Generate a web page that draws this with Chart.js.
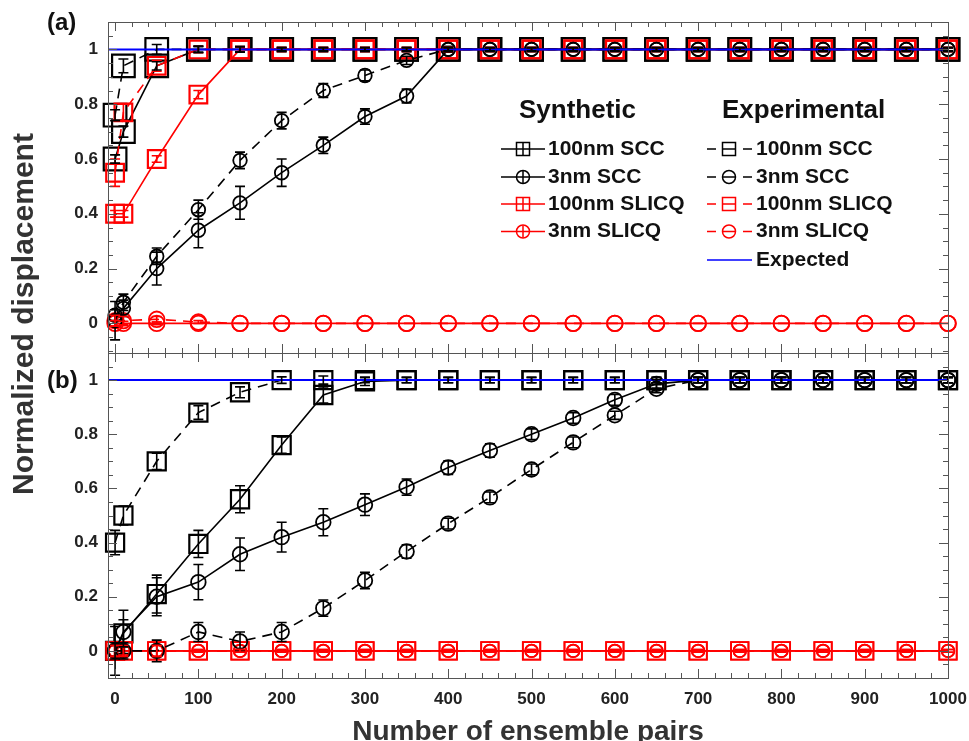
<!DOCTYPE html>
<html>
<head>
<meta charset="utf-8">
<script src="https://cdn.jsdelivr.net/npm/chart.js@4.4.1/dist/chart.umd.min.js"></script>
<style>
  body { margin: 0; background: #fff; width: 969px; height: 741px; overflow: hidden; position: relative;
         font-family: "Liberation Sans", Arial, sans-serif; }
  canvas { position: absolute; left: 0; }
  #panelA { top: 0; }
  #panelB { top: 345px; }
  .lbl { position: absolute; font-weight: bold; color: #111; white-space: nowrap; }
  #tagA { left: 47px; top: 10px; font-size: 24px; line-height: 24px; }
  #tagB { left: 47px; top: 368px; font-size: 24px; line-height: 24px; }
  #ytitle { left: -177px; top: 297px; width: 400px; height: 34px; line-height: 34px; font-size: 30px;
            text-align: center; color: #333; transform: rotate(-90deg); }
</style>
</head>
<body>
<canvas id="panelA" width="969" height="361"></canvas>
<canvas id="panelB" width="969" height="410"></canvas>
<div class="lbl" id="tagA">(a)</div>
<div class="lbl" id="tagB">(b)</div>
<div class="lbl" id="ytitle">Normalized displacement</div>
<script>
// 앙상블 쌍 개수 (x)
const pairs = [0, 10, 50, 100, 150, 200, 250, 300, 350, 400, 450, 500, 550, 600, 650, 700, 750, 800, 850, 900, 950, 1000];

// (a) 패널
const aSyn100SCC    = [0.60, 0.70, 0.94, 1, 1, 1, 1, 1, 1, 1, 1, 1, 1, 1, 1, 1, 1, 1, 1, 1, 1, 1];
const aSyn100SCCErr = [0.015, 0.02, 0.015, 0.01, 0.01, 0.005, 0.005, 0.005, 0.005, 0.005, 0.005, 0.005, 0.005, 0.005, 0.005, 0.005, 0.005, 0.005, 0.005, 0.005, 0.005, 0.005];
const aExp100SCC    = [0.76, 0.94, 1, 1, 1, 1, 1, 1, 1, 1, 1, 1, 1, 1, 1, 1, 1, 1, 1, 1, 1, 1];
const aExp100SCCErr = [0.02, 0.025, 0.018, 0.012, 0.01, 0.008, 0.008, 0.008, 0.008, 0.008, 0.008, 0.008, 0.008, 0.008, 0.008, 0.008, 0.008, 0.008, 0.008, 0.008, 0.008, 0.008];
const aSyn3SCC      = [0.03, 0.055, 0.20, 0.34, 0.44, 0.55, 0.65, 0.755, 0.83, 1, 1, 1, 1, 1, 1, 1, 1, 1, 1, 1, 1, 1];
const aSyn3SCCErr   = [0.02, 0.03, 0.06, 0.064, 0.06, 0.05, 0.03, 0.028, 0.025, 0.01, 0.006, 0.006, 0.006, 0.006, 0.006, 0.006, 0.006, 0.006, 0.006, 0.006, 0.006, 0.006];
const aExp3SCC      = [0.01, 0.077, 0.245, 0.415, 0.595, 0.74, 0.85, 0.905, 0.96, 1, 1, 1, 1, 1, 1, 1, 1, 1, 1, 1, 1, 1];
const aExp3SCCErr   = [0.07, 0.03, 0.03, 0.035, 0.03, 0.03, 0.025, 0.02, 0.015, 0.01, 0.006, 0.006, 0.006, 0.006, 0.006, 0.006, 0.006, 0.006, 0.006, 0.006, 0.006, 0.006];
const aSyn100SLICQ    = [0.40, 0.40, 0.60, 0.835, 1, 1, 1, 1, 1, 1, 1, 1, 1, 1, 1, 1, 1, 1, 1, 1, 1, 1];
const aSyn100SLICQErr = [0.012, 0.012, 0.012, 0.015, 0.01, 0.006, 0.006, 0.006, 0.006, 0.006, 0.006, 0.006, 0.006, 0.006, 0.006, 0.006, 0.006, 0.006, 0.006, 0.006, 0.006, 0.006];
const aExp100SLICQ    = [0.55, 0.77, 0.94, 1, 1, 1, 1, 1, 1, 1, 1, 1, 1, 1, 1, 1, 1, 1, 1, 1, 1, 1];
const aExp100SLICQErr = [0.05, 0.03, 0.02, 0.012, 0.008, 0.008, 0.008, 0.008, 0.008, 0.008, 0.008, 0.008, 0.008, 0.008, 0.008, 0.008, 0.008, 0.008, 0.008, 0.008, 0.008, 0.008];
const aSyn3SLICQ    = [0, 0, 0, 0, 0, 0, 0, 0, 0, 0, 0, 0, 0, 0, 0, 0, 0, 0, 0, 0, 0, 0];
const aSyn3SLICQErr = [0.01, 0.008, 0.005, 0, 0, 0, 0, 0, 0, 0, 0, 0, 0, 0, 0, 0, 0, 0, 0, 0, 0, 0];
const aExp3SLICQ    = [0.01, 0.01, 0.015, 0.005, 0, 0, 0, 0, 0, 0, 0, 0, 0, 0, 0, 0, 0, 0, 0, 0, 0, 0];
const aExp3SLICQErr = [0.02, 0.015, 0.01, 0.005, 0, 0, 0, 0, 0, 0, 0, 0, 0, 0, 0, 0, 0, 0, 0, 0, 0, 0];

// (b) 패널
const bSyn100SCC    = [0.0, 0.065, 0.21, 0.395, 0.56, 0.76, 0.945, 0.995, 1, 1, 1, 1, 1, 1, 1, 1, 1, 1, 1, 1, 1, 1];
const bSyn100SCCErr = [0.03, 0.05, 0.07, 0.05, 0.05, 0.03, 0.03, 0.015, 0.01, 0.01, 0.01, 0.01, 0.01, 0.01, 0.01, 0.01, 0.01, 0.01, 0.01, 0.01, 0.01, 0.01];
const bExp100SCC    = [0.40, 0.50, 0.70, 0.88, 0.955, 1, 1, 1, 1, 1, 1, 1, 1, 1, 1, 1, 1, 1, 1, 1, 1, 1];
const bExp100SCCErr = [0.045, 0.035, 0.03, 0.025, 0.02, 0.012, 0.015, 0.01, 0.01, 0.01, 0.01, 0.01, 0.01, 0.01, 0.01, 0.01, 0.01, 0.01, 0.01, 0.01, 0.01, 0.01];
const bSyn3SCC      = [0.0, 0.07, 0.20, 0.254, 0.357, 0.42, 0.475, 0.54, 0.605, 0.677, 0.74, 0.80, 0.86, 0.927, 0.986, 1, 1, 1, 1, 1, 1, 1];
const bSyn3SCCErr   = [0.02, 0.08, 0.07, 0.065, 0.06, 0.055, 0.05, 0.04, 0.03, 0.025, 0.025, 0.02, 0.02, 0.02, 0.015, 0.01, 0.01, 0.01, 0.01, 0.01, 0.01, 0.01];
const bExp3SCC      = [0.0, 0.0, 0.0, 0.07, 0.035, 0.07, 0.158, 0.26, 0.367, 0.47, 0.567, 0.67, 0.77, 0.87, 0.968, 1, 1, 1, 1, 1, 1, 1];
const bExp3SCCErr   = [0.09, 0.03, 0.04, 0.035, 0.035, 0.035, 0.03, 0.03, 0.025, 0.02, 0.02, 0.02, 0.02, 0.015, 0.015, 0.01, 0.01, 0.01, 0.01, 0.01, 0.01, 0.01];
const bSyn100SLICQ    = [0, 0, 0, 0, 0, 0, 0, 0, 0, 0, 0, 0, 0, 0, 0, 0, 0, 0, 0, 0, 0, 0];
const bSyn100SLICQErr = [0.02, 0.015, 0.02, 0.005, 0.005, 0.005, 0.005, 0.005, 0.005, 0.005, 0.005, 0.005, 0.005, 0.005, 0.005, 0.005, 0.005, 0.005, 0.005, 0.005, 0.005, 0.005];
const bExp100SLICQ    = [0, 0, 0, 0, 0, 0, 0, 0, 0, 0, 0, 0, 0, 0, 0, 0, 0, 0, 0, 0, 0, 0];
const bExp100SLICQErr = [0.02, 0.02, 0.02, 0.005, 0.005, 0.005, 0.005, 0.005, 0.005, 0.005, 0.005, 0.005, 0.005, 0.005, 0.005, 0.005, 0.005, 0.005, 0.005, 0.005, 0.005, 0.005];
const bSyn3SLICQ    = [0, 0, 0, 0, 0, 0, 0, 0, 0, 0, 0, 0, 0, 0, 0, 0, 0, 0, 0, 0, 0, 0];
const bExp3SLICQ    = [0, 0, 0, 0, 0, 0, 0, 0, 0, 0, 0, 0, 0, 0, 0, 0, 0, 0, 0, 0, 0, 0];

// 기대값 선 (x축 전체)
const expectedX = [-8.5, 1000];
const expectedY = [1, 1];

// 축 눈금
const xMajorTicks = [0, 100, 200, 300, 400, 500, 600, 700, 800, 900, 1000];
const yMajorTicks = [0, 0.2, 0.4, 0.6, 0.8, 1];
const seriesNames = ['100nm SCC', '3nm SCC', '100nm SLICQ', '3nm SLICQ'];

const BLACK = '#000000';
const RED = '#ff0000';
const BLUE = '#0000ff';
const FONT = '"Liberation Sans", Arial, sans-serif';
const DASH = [10, 7];

function pts(xs, ys) {
    return xs.map((x, i) => ({ x: x, y: ys[i] }));
}

function series(label, ys, errs, color, style, radius, dashed, order, markerWidth) {
    return {
        label: label,
        data: pts(pairs, ys),
        errors: errs,
        borderColor: color,
        backgroundColor: 'rgba(0,0,0,0)',
        borderWidth: 1.6,
        borderDash: dashed ? DASH : [],
        pointStyle: style,
        pointRadius: radius,
        pointBorderWidth: markerWidth || 1.8,
        pointBorderColor: color,
        pointBackgroundColor: 'rgba(0,0,0,0)',
        tension: 0,
        order: order,
        clip: false
    };
}

function expectedLine() {
    return {
        label: 'Expected',
        data: pts(expectedX, expectedY),
        borderColor: BLUE,
        borderWidth: 2,
        pointRadius: 0,
        order: 0,
        clip: false
    };
}

// 라벨 때문에 생기는 자동 여백 제거 (플롯 영역 위치 고정)
function noLabelPadding(s) {
    s.paddingTop = 0;
    s.paddingBottom = 0;
    s.paddingLeft = 0;
    s.paddingRight = 0;
}

// 테두리 + 안쪽 방향 눈금
const frameTicks = {
    id: 'frameTicks',
    afterDraw(chart) {
        const { ctx, chartArea: a, scales: { x, y } } = chart;
        ctx.save();
        ctx.strokeStyle = '#555';
        ctx.lineWidth = 1;
        ctx.setLineDash([]);
        ctx.beginPath();
        for (let v = 0; v <= 1000; v += 20) {
            const px = Math.round(x.getPixelForValue(v)) + 0.5;
            const len = xMajorTicks.includes(v) ? 9 : 5;
            ctx.moveTo(px, a.bottom); ctx.lineTo(px, a.bottom - len);
            ctx.moveTo(px, a.top); ctx.lineTo(px, a.top + len);
        }
        for (let k = -2; k <= 22; k++) {
            const v = k * 0.05;
            if (v < y.min || v > y.max) continue;
            const py = Math.round(y.getPixelForValue(v)) + 0.5;
            const len = (k % 4 === 0 || k === 20) ? 9 : 5;
            ctx.moveTo(a.left, py); ctx.lineTo(a.left + len, py);
            ctx.moveTo(a.right, py); ctx.lineTo(a.right - len, py);
        }
        ctx.stroke();
        ctx.strokeRect(Math.round(a.left) + 0.5, Math.round(a.top) + 0.5,
                       Math.round(a.right - a.left), Math.round(a.bottom - a.top));
        ctx.restore();
    }
};

// 오차 막대
const errorBars = {
    id: 'errorBars',
    afterDatasetsDraw(chart) {
        const { ctx } = chart;
        const y = chart.scales.y;
        chart.data.datasets.forEach((ds, i) => {
            if (!ds.errors) return;
            const meta = chart.getDatasetMeta(i);
            ctx.save();
            ctx.strokeStyle = ds.borderColor;
            ctx.lineWidth = 1.6;
            ctx.setLineDash([]);
            ctx.beginPath();
            meta.data.forEach((pt, j) => {
                const e = ds.errors[j];
                if (!e) return;
                const v = ds.data[j].y;
                const top = y.getPixelForValue(v + e);
                const bot = y.getPixelForValue(v - e);
                ctx.moveTo(pt.x, top); ctx.lineTo(pt.x, bot);
                ctx.moveTo(pt.x - 5, top); ctx.lineTo(pt.x + 5, top);
                ctx.moveTo(pt.x - 5, bot); ctx.lineTo(pt.x + 5, bot);
            });
            ctx.stroke();
            ctx.restore();
        });
    }
};

// 두 열 범례 (Synthetic / Experimental)
const twoColLegend = {
    id: 'twoColLegend',
    afterDraw(chart) {
        const ctx = chart.ctx;
        const rows = [149, 177, 204, 231.5];
        const colors = [BLACK, BLACK, RED, RED];
        const shapes = ['rect', 'circle', 'rect', 'circle'];
        ctx.save();
        ctx.fillStyle = '#111';
        ctx.textBaseline = 'middle';
        ctx.font = 'bold 26px ' + FONT;
        ctx.fillText('Synthetic', 519, 111);
        ctx.fillText('Experimental', 722, 111);
        ctx.font = 'bold 21px ' + FONT;
        seriesNames.forEach((name, i) => {
            const y = rows[i];
            [[501, 545, 523, 548, false], [707, 752, 729, 756, true]].forEach(([x0, x1, mx, tx, dashed]) => {
                ctx.strokeStyle = colors[i];
                ctx.lineWidth = 1.5;
                ctx.beginPath();
                if (dashed) {
                    ctx.moveTo(x0, y); ctx.lineTo(x0 + 9, y);
                    ctx.moveTo(x1 - 9, y); ctx.lineTo(x1, y);
                    ctx.moveTo(mx - 6, y); ctx.lineTo(mx + 6, y);
                } else {
                    ctx.moveTo(x0, y); ctx.lineTo(x1, y);
                    ctx.moveTo(mx, y - 6); ctx.lineTo(mx, y + 6);
                }
                ctx.stroke();
                ctx.beginPath();
                if (shapes[i] === 'rect') {
                    ctx.rect(mx - 6.5, y - 6.5, 13, 13);
                } else {
                    ctx.arc(mx, y, 6.5, 0, Math.PI * 2);
                }
                ctx.stroke();
                ctx.fillText(name, tx, y);
            });
        });
        ctx.strokeStyle = BLUE;
        ctx.lineWidth = 1.5;
        ctx.beginPath();
        ctx.moveTo(707, 260); ctx.lineTo(752, 260);
        ctx.stroke();
        ctx.fillText('Expected', 756, 260);
        ctx.restore();
    }
};

function yScale(min) {
    return {
        type: 'linear',
        min: min,
        max: 1.1,
        afterBuildTicks: s => { s.ticks = yMajorTicks.map(v => ({ value: v })); },
        afterFit: s => { s.width = 108; noLabelPadding(s); },
        grid: { display: false, drawTicks: false },
        border: { display: false },
        ticks: { padding: 10, color: '#222', font: { family: FONT, size: 17, weight: 'bold' },
                 callback: v => String(v) }
    };
}

function xScale(show) {
    return {
        type: 'linear',
        min: -8.5,
        max: 1000,
        display: show,
        afterBuildTicks: s => { s.ticks = xMajorTicks.map(v => ({ value: v })); },
        afterFit: s => { s.height = show ? 77 : 0; noLabelPadding(s); },
        grid: { display: false, drawTicks: false },
        border: { display: false },
        ticks: { padding: 11, maxRotation: 0, autoSkip: false, color: '#222',
                 font: { family: FONT, size: 17, weight: 'bold' }, callback: v => String(v) },
        title: {
            display: show,
            text: 'Number of ensemble pairs',
            color: '#333',
            font: { family: FONT, size: 28, weight: 'bold' },
            padding: { top: 0, bottom: 6 }
        }
    };
}

function baseOptions(padding, showX, yMin) {
    return {
        responsive: false,
        animation: false,
        layout: { padding: padding, autoPadding: false },
        plugins: { legend: { display: false }, tooltip: { enabled: false } },
        scales: { x: xScale(showX), y: yScale(yMin) }
    };
}

new Chart(document.getElementById('panelA'), {
    type: 'line',
    data: {
        datasets: [
            expectedLine(),
            series(seriesNames[1], aSyn3SCC, aSyn3SCCErr, BLACK, 'circle', 6.8, false, 1),
            series(seriesNames[1], aExp3SCC, aExp3SCCErr, BLACK, 'circle', 6.8, true, 1),
            series(seriesNames[3], aSyn3SLICQ, aSyn3SLICQErr, RED, 'circle', 7.8, false, 2),
            series(seriesNames[3], aExp3SLICQ, aExp3SLICQErr, RED, 'circle', 7.8, true, 2),
            series(seriesNames[2], aSyn100SLICQ, aSyn100SLICQErr, RED, 'rect', 12.5, false, 3, 2.2),
            series(seriesNames[2], aExp100SLICQ, aExp100SLICQErr, RED, 'rect', 12.5, true, 3, 2.2),
            series(seriesNames[0], aSyn100SCC, aSyn100SCCErr, BLACK, 'rect', 16, false, 4, 2.2),
            series(seriesNames[0], aExp100SCC, aExp100SCCErr, BLACK, 'rect', 16, true, 4, 2.2)
        ]
    },
    options: baseOptions({ top: 22, bottom: 8, right: 21, left: 0 }, false, -0.108),
    plugins: [errorBars, frameTicks, twoColLegend]
});

new Chart(document.getElementById('panelB'), {
    type: 'line',
    data: {
        datasets: [
            expectedLine(),
            series(seriesNames[1], bSyn3SCC, bSyn3SCCErr, BLACK, 'circle', 7.3, false, 1),
            series(seriesNames[1], bExp3SCC, bExp3SCCErr, BLACK, 'circle', 7.3, true, 1),
            series(seriesNames[3], bSyn3SLICQ, null, RED, 'circle', 6.3, false, 2),
            series(seriesNames[3], bExp3SLICQ, null, RED, 'circle', 6.3, true, 2),
            series(seriesNames[2], bSyn100SLICQ, bSyn100SLICQErr, RED, 'rect', 12.3, false, 3),
            series(seriesNames[2], bExp100SLICQ, bExp100SLICQErr, RED, 'rect', 12.3, true, 3),
            series(seriesNames[0], bSyn100SCC, bSyn100SCCErr, BLACK, 'rect', 12.8, false, 4, 2.2),
            series(seriesNames[0], bExp100SCC, bExp100SCCErr, BLACK, 'rect', 12.8, true, 4, 2.2)
        ]
    },
    options: baseOptions({ top: 8, bottom: 0, right: 21, left: 0 }, true, -0.1),
    plugins: [errorBars, frameTicks]
});
</script>
</body>
</html>
